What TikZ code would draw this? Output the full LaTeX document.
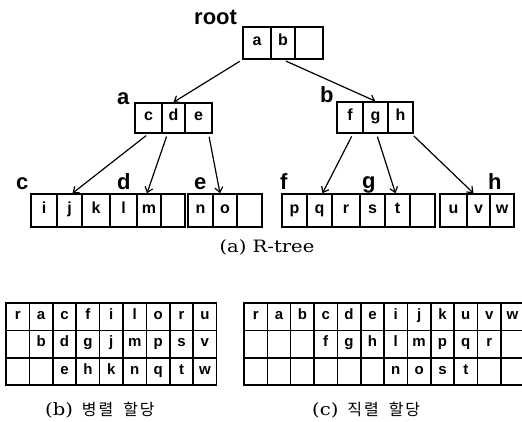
\documentclass[tikz,border=0pt]{standalone}
\usepackage{fontspec}
\setmainfont{Liberation Sans}
\newfontfamily\capfont[FakeStretch=1.15]{DejaVu Serif}
\newfontfamily\krfont[LetterSpace=12]{Noto Sans CJK KR}
\usetikzlibrary{arrows.meta,calc}
\def\E{}
\tikzset{
  cell/.style={draw, line width=1.5pt, inner sep=0pt, text height=0.72em, text depth=0.2em, font=\bfseries\fontsize{16}{16}\selectfont},
  tcell/.style={draw, line width=1.5pt, inner sep=0pt, minimum width=23.4pt, minimum height=27.4pt, text height=0.72em, text depth=0.2em, font=\bfseries\fontsize{15}{15}\selectfont},
  lbl/.style={inner sep=0pt, anchor=base west, font=\bfseries\fontsize{22}{22}\selectfont},
  link/.style={line width=1.2pt, shorten <=3pt, -{Straight Barb[length=5pt,width=8pt]}},
  captext/.style={inner sep=0pt, font=\capfont\fontsize{17}{17}\selectfont},
  krtext/.style={inner sep=0pt, anchor=base west},
}
\begin{document}
\begin{tikzpicture}[x=1pt,y=-1pt]
\useasboundingbox (0,0) rectangle (522,422);
% tree cells
\foreach \n/\x/\y/\w/\h/\t in {
  r1/257/43/28/32/a, r2/283/43/24/32/b, r3/309/43/28/32/\E,
  a1/148.5/118/27/30/c, a2/173.5/118/23/30/d, a3/198.5/118/27/30/e,
  b1/350/117.5/26/31/f, b2/375.5/117.5/25/31/g, b3/400.5/117.5/25/31/h,
  li/44/210.5/26/33/i, lj/69.5/210.5/25/33/j, lk/96/210.5/28/33/k,
  ll/123.5/210.5/27/33/l, lm/149/210.5/24/33/m, ld/173/210.5/24/33/\E,
  ln/200.5/210.5/25/33/n, lo/225/210.5/24/33/o, le/249.5/210.5/25/33/\E,
  lp/294.5/210.5/25/33/p, lq/319.5/210.5/25/33/q, lr/346/210.5/28/33/r,
  ls/372.5/210.5/25/33/s, lt/397.5/210.5/25/33/t, lg/422.5/210.5/25/33/\E,
  lu/453.5/210.5/27/33/u, lv/478.5/210.5/23/33/v, lw/502/210.5/24/33/w}
  \node[cell, minimum width=\w pt, minimum height=\h pt] (\n) at (\x,\y) {\t};
% labels
\node[lbl] (Lroot) at (194,25) {root};
\node[lbl] (La) at (117,105) {a};
\node[lbl] (Lb) at (320,103) {b};
\node[lbl] (Lc) at (16,190) {c};
\node[lbl] (Ld) at (117,190) {d};
\node[lbl] (Le) at (194,190) {e};
\node[lbl] (Lf) at (280,190) {f};
\node[lbl] (Lg) at (362,189) {g};
\node[lbl] (Lh) at (488,190) {h};
% connectors
\draw[link] (r1.south west) -- (a2.north);
\draw[link] (r2.south) -- (b2.north);
\draw[link] (a1.south) -- ([xshift=3pt]lj.north);
\draw[link] ([xshift=-6pt]a2.south) -- ([xshift=-2pt]lm.north);
\draw[link] ([xshift=10pt]a3.south) -- ([xshift=-5pt]lo.north);
\draw[link] ([xshift=3pt]b1.south) -- ([xshift=3pt]lq.north);
\draw[link] ([xshift=1pt]b2.south) -- ([xshift=-2pt]lt.north);
\draw[link] ([xshift=11pt]b3.south) -- ([xshift=-5pt]lv.north);
% table (b)
\foreach \row [count=\i] in {{r,a,c,f,i,l,o,r,u},{\E,b,d,g,j,m,p,s,v},{\E,\E,e,h,k,n,q,t,w}}
  \foreach \t [count=\j] in \row
    \node[tcell] (tb-\i-\j) at ({6+(\j-0.5)*23.4},{303+(\i-0.5)*27.4}) {\t};
% table (c)
\foreach \row [count=\i] in {{r,a,b,c,d,e,i,j,k,u,v,w},{\E,\E,\E,f,g,h,l,m,p,q,r,\E},{\E,\E,\E,\E,\E,\E,n,o,s,t,\E,\E}}
  \foreach \t [count=\j] in \row
    \node[tcell] (tc-\i-\j) at ({244+(\j-0.5)*23.35},{303+(\i-0.5)*27.4}) {\t};
% captions
\node[captext] (capa) at (267,247) {(a) R-tree};
\node[captext, krtext] (capb) at (45,415) {(b)\hspace{9pt}{\krfont\fontsize{16}{16}\selectfont 병렬\hspace{10pt}할당}};
\node[captext, krtext] (capc) at (312,415) {(c)\hspace{9pt}{\krfont\fontsize{16}{16}\selectfont 직렬\hspace{10pt}할당}};
\end{tikzpicture}
\end{document}
